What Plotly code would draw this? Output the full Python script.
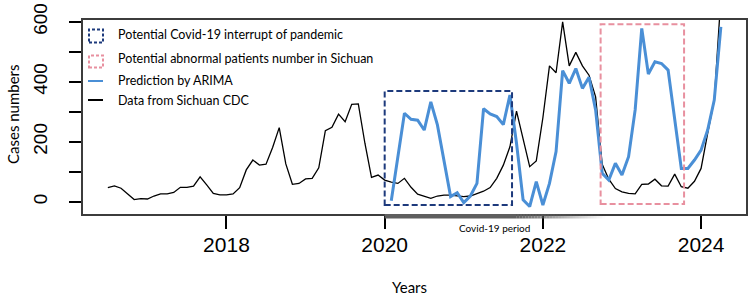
import plotly.graph_objects as go

# ---- data (monthly, R-style decimal time: year + (month-1)/12) ----
start_time = 2016 + 6 / 12          # July 2016
freq = 12
cdc_cases = [47, 53, 45, 26, 7, 10, 9, 19, 26, 26, 31, 48, 48, 52, 83, 56, 28, 23, 23, 26,
             47, 106, 139, 122, 125, 181, 247, 126, 58, 61, 76, 78, 113, 237, 248, 292, 267, 325, 326, 195,
             81, 89, 72, 65, 61, 78, 48, 25, 17, 11, 19, 22, 22, 20, 17, 19, 28, 35, 47, 78,
             122, 183, 302, 212, 117, 136, 280, 453, 430, 600, 453, 498, 453, 422, 350, 125, 75, 44, 33, 28,
             26, 58, 59, 75, 53, 52, 92, 50, 45, 68, 111, 228, 339, 680]
arima_offset = 43                   # ARIMA prediction starts Feb 2020
arima_pred = [3, 149, 295, 275, 272, 239, 333, 256, 139, 17,
              30, -3, 19, 61, 310, 293, 284, 257, 356, 195,
              6, -16, 67, -11, 61, 167, 437, 395, 444, 378,
              415, 306, 95, 72, 128, 89, 150, 306, 578, 426,
              467, 461, 439, 272, 111, 111, 139, 172, 239, 339, 583]

x_tick_vals = [2018, 2020, 2022, 2024]
y_tick_vals = [0, 100, 200, 300, 400, 500, 600]
y_tick_text = ["0", "", "200", "", "400", "", "600"]

covid_box = dict(x=[2020.0, 2021.61], y=[-11, 369])
abnormal_box = dict(x=[2022.73, 2023.785], y=[-8, 592])
covid_period = [2020.0, 2021.67, 2022.79]   # solid start, fade start, fade end

legend_labels = ["Potential Covid-19 interrupt of pandemic",
                 "Potential abnormal patients number in Sichuan",
                 "Prediction by ARIMA",
                 "Data from Sichuan CDC"]

t_cdc = [start_time + i / freq for i in range(len(cdc_cases))]
t_arima = [start_time + (arima_offset + i) / freq for i in range(len(arima_pred))]

BLUE = "#4A8FD6"
NAVY = "#1D3A7C"
PINK = "#E8909F"
TXT_FONT = "Lato"

W, H = 753, 296
ML, MR, MT, MB = 83, 7, 20, 82
PW, PH = W - ML - MR, H - MT - MB


def px(xp):
    return (xp - ML) / PW


def py(yp):
    return (H - MB - yp) / PH


fig = go.Figure()
fig.add_trace(go.Scatter(x=t_cdc, y=cdc_cases, mode="lines",
                         line=dict(color="black", width=1.3), showlegend=False))
fig.add_trace(go.Scatter(x=t_arima, y=arima_pred, mode="lines",
                         line=dict(color=BLUE, width=3), showlegend=False))

shapes = []
# dashed boxes
shapes.append(dict(type="rect", xref="x", yref="y", x0=covid_box["x"][0], x1=covid_box["x"][1],
                   y0=covid_box["y"][0], y1=covid_box["y"][1],
                   line=dict(color=NAVY, width=2, dash="6px,3px"), layer="above"))
shapes.append(dict(type="rect", xref="x", yref="y", x0=abnormal_box["x"][0], x1=abnormal_box["x"][1],
                   y0=abnormal_box["y"][0], y1=abnormal_box["y"][1],
                   line=dict(color=PINK, width=2, dash="6px,3px"), layer="above"))

# covid period gradient bar just below the plot box
bar_y0, bar_y1 = py(218.5), py(214)
shapes.append(dict(type="rect", xref="x", yref="paper", x0=covid_period[0], x1=covid_period[1],
                   y0=bar_y0, y1=bar_y1, line=dict(width=0), fillcolor="rgb(95,95,95)", layer="above"))
n = 30
span = covid_period[2] - covid_period[1]
for k in range(n):
    a = 1 - (k + 0.5) / n
    shapes.append(dict(type="rect", xref="x", yref="paper",
                       x0=covid_period[1] + span * k / n, x1=covid_period[1] + span * (k + 1) / n,
                       y0=bar_y0, y1=bar_y1, line=dict(width=0),
                       fillcolor=f"rgba(95,95,95,{a:.3f})", layer="above"))

# legend icons
shapes.append(dict(type="rect", xref="paper", yref="paper", x0=px(89), x1=px(103), y0=py(42.5), y1=py(29.5),
                   line=dict(color=NAVY, width=2, dash="3px,2px")))
shapes.append(dict(type="rect", xref="paper", yref="paper", x0=px(89), x1=px(103), y0=py(67.5), y1=py(55.5),
                   line=dict(color=PINK, width=2, dash="3px,2px")))
shapes.append(dict(type="line", xref="paper", yref="paper", x0=px(88), x1=px(103), y0=py(81), y1=py(81),
                   line=dict(color=BLUE, width=2)))
shapes.append(dict(type="line", xref="paper", yref="paper", x0=px(88), x1=px(103), y0=py(100), y1=py(100),
                   line=dict(color="black", width=2)))

annotations = []
for lab, yp in zip(legend_labels, [35, 59, 80, 100]):
    annotations.append(dict(text=lab, xref="paper", yref="paper", x=px(116), y=py(yp),
                            xanchor="left", yanchor="middle", showarrow=False,
                            font=dict(family=TXT_FONT, size=12.5, color="black")))
annotations.append(dict(text="Covid-19 period", xref="paper", yref="paper", x=px(494), y=py(228),
                        xanchor="center", yanchor="middle", showarrow=False,
                        font=dict(family=TXT_FONT, size=10, color="black")))
annotations.append(dict(text="Years", xref="paper", yref="paper", x=px(409), y=py(287),
                        xanchor="center", yanchor="middle", showarrow=False,
                        font=dict(family=TXT_FONT, size=15, color="black")))
annotations.append(dict(text="Cases numbers", xref="paper", yref="paper", x=px(13), y=py(114),
                        xanchor="center", yanchor="middle", showarrow=False, textangle=-90,
                        font=dict(family=TXT_FONT, size=15, color="black")))

fig.update_layout(
    width=W, height=H, autosize=False,
    margin=dict(l=ML, r=MR, t=MT, b=MB, pad=0),
    paper_bgcolor="white", plot_bgcolor="white",
    showlegend=False,
    shapes=shapes, annotations=annotations,
    xaxis=dict(range=[2016.186, 2024.568], tickvals=x_tick_vals, ticktext=[str(v) for v in x_tick_vals],
               ticks="outside", ticklen=13, tickwidth=1.5, tickcolor="black", automargin=False,
               showline=True, mirror=True, linecolor="#3c3c3c", linewidth=2,
               showgrid=False, zeroline=False, ticklabelstandoff=-2,
               tickfont=dict(family="Liberation Sans", size=21, color="black")),
    yaxis=dict(range=[-41, 606], tickvals=y_tick_vals, ticktext=y_tick_text, tickangle=-90,
               ticks="outside", ticklen=12, tickwidth=1.5, tickcolor="black", automargin=False,
               showline=True, mirror=True, linecolor="#3c3c3c", linewidth=2,
               showgrid=False, zeroline=False, ticklabelstandoff=14,
               tickfont=dict(family="Liberation Sans", size=19, color="black")),
)

fig.write_html("out.html", config={"displayModeBar": False},
               post_script="document.body.style.margin='0px';")
